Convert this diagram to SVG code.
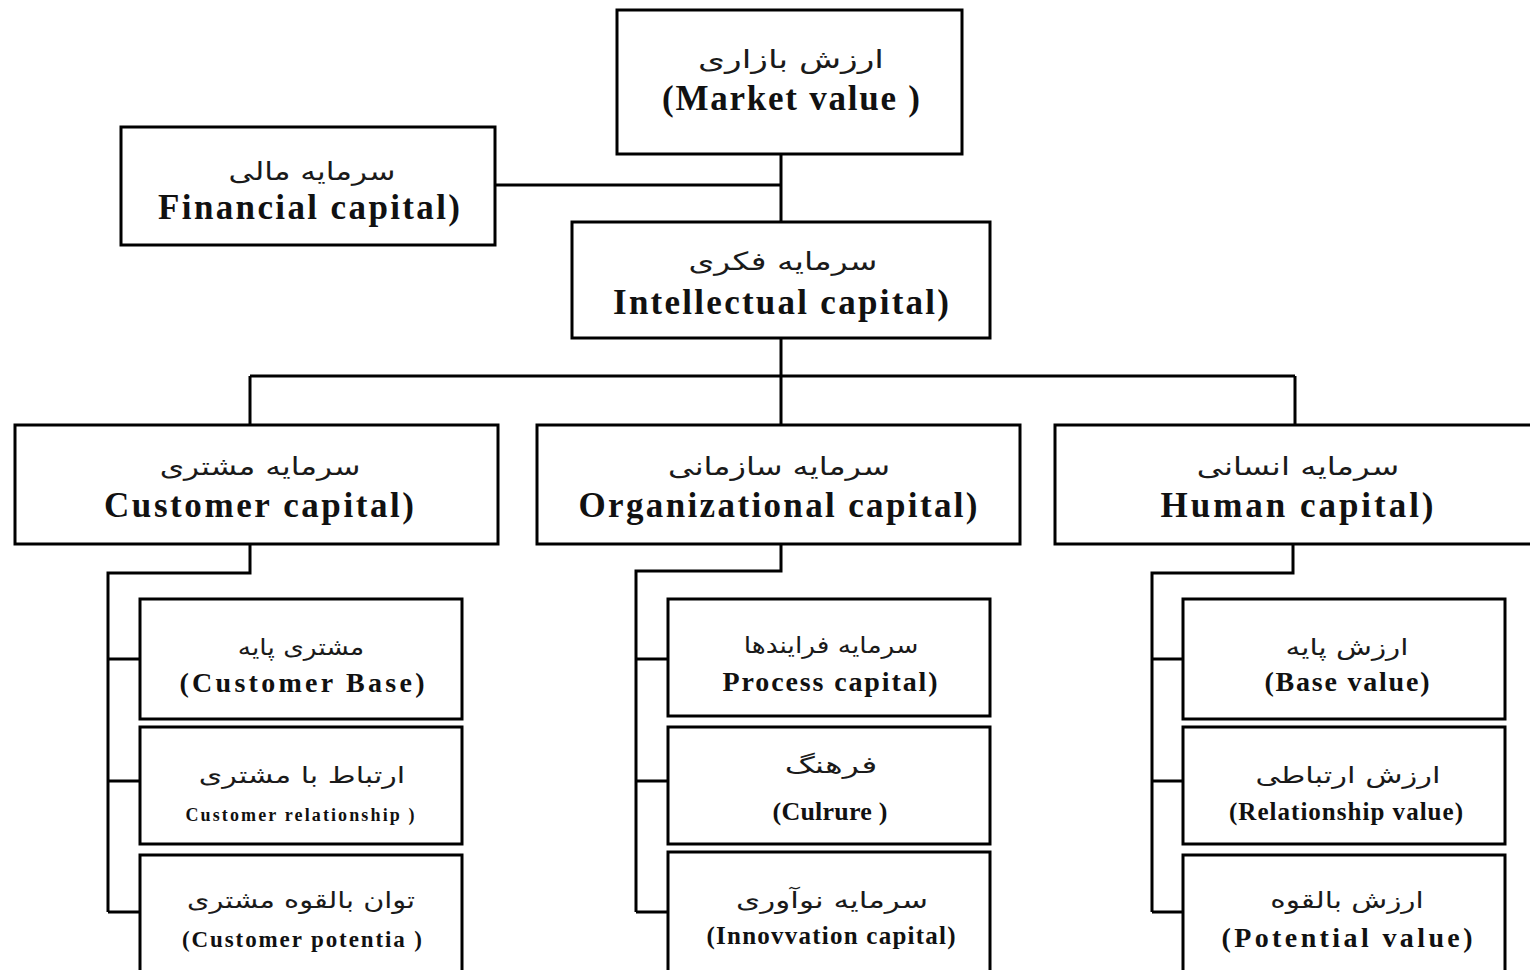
<svg xmlns="http://www.w3.org/2000/svg" width="1530" height="970" viewBox="0 0 1530 970">
  <style>
    .box { fill: #ffffff; stroke: #000000; stroke-width: 3; }
    .wire { fill: none; stroke: #000000; stroke-width: 3; }
    .fa { font-family: "DejaVu Sans", sans-serif; fill: #1a1a1a; text-anchor: middle; }
    .en { font-family: "Liberation Serif", serif; font-weight: bold; fill: #111111; text-anchor: middle; }
    .fa-l { font-size: 25px; }
    .fa-s { font-size: 23px; }
    .en-l { font-size: 35px; }
    .en-s { font-size: 28px; }
  </style>
  <rect width="1530" height="970" fill="#ffffff"/>

  <!-- connectors -->
  <g id="connectors" class="wire">
    <path d="M781 154 V222"/>
    <path d="M495 185 H781"/>
    <path d="M781 338 V376"/>
    <path d="M250 376 H1295"/>
    <path d="M250 376 V425 M781 376 V425 M1295 376 V425"/>
    <!-- customer branch -->
    <path d="M250 544 V573 H108 V912"/>
    <path d="M108 659 H140 M108 781 H140 M108 912 H140"/>
    <!-- organizational branch -->
    <path d="M781 544 V571 H636 V912"/>
    <path d="M636 659 H668 M636 781 H668 M636 912 H668"/>
    <!-- human branch -->
    <path d="M1293 544 V573 H1152 V912"/>
    <path d="M1152 659 H1183 M1152 781 H1188 M1152 912 H1188"/>
  </g>

  <!-- Persian captions are widened horizontally with scale(sx,1) about their centre -->
  <g id="market-value">
    <rect class="box" x="617" y="10" width="345" height="144"/>
    <text class="fa fa-l" transform="translate(791 68) scale(1.38 1)">ارزش بازاری</text>
    <text class="en en-l" x="791" y="110" textLength="258" lengthAdjust="spacing">(Market value )</text>
  </g>

  <g id="financial-capital">
    <rect class="box" x="121" y="127" width="374" height="118"/>
    <text class="fa fa-l" transform="translate(312 180) scale(1.25 1)">سرمایه مالی</text>
    <text class="en en-l" x="309" y="219" textLength="302" lengthAdjust="spacing">Financial capital)</text>
  </g>

  <g id="intellectual-capital">
    <rect class="box" x="572" y="222" width="418" height="116"/>
    <text class="fa fa-l" transform="translate(783 270) scale(1.32 1)">سرمایه فکری</text>
    <text class="en en-l" x="781" y="314" textLength="336" lengthAdjust="spacing">Intellectual capital)</text>
  </g>

  <g id="customer-capital">
    <rect class="box" x="15" y="425" width="483" height="119"/>
    <text class="fa fa-l" transform="translate(260 475) scale(1.25 1)">سرمایه مشتری</text>
    <text class="en en-l" x="259" y="517" textLength="310" lengthAdjust="spacing">Customer capital)</text>
  </g>

  <g id="organizational-capital">
    <rect class="box" x="537" y="425" width="483" height="119"/>
    <text class="fa fa-l" transform="translate(779 475) scale(1.28 1)">سرمایه سازمانی</text>
    <text class="en en-l" x="778" y="517" textLength="399" lengthAdjust="spacing">Organizational capital)</text>
  </g>

  <g id="human-capital">
    <rect class="box" x="1055" y="425" width="490" height="119"/>
    <text class="fa fa-l" transform="translate(1298 475) scale(1.3 1)">سرمایه انسانی</text>
    <text class="en en-l" x="1297" y="517" textLength="273" lengthAdjust="spacing">Human capital)</text>
  </g>

  <g id="customer-base">
    <rect class="box" x="140" y="599" width="322" height="120"/>
    <text class="fa fa-s" transform="translate(301 655) scale(1.15 1)">مشتری پایه</text>
    <text class="en en-s" x="302" y="692" textLength="245" lengthAdjust="spacing">(Customer Base)</text>
  </g>

  <g id="customer-relationship">
    <rect class="box" x="140" y="727" width="322" height="117"/>
    <text class="fa fa-s" transform="translate(302 783) scale(1.31 1)">ارتباط با مشتری</text>
    <text class="en" x="300" y="821" font-size="18" textLength="229" lengthAdjust="spacing">Customer relationship )</text>
  </g>

  <g id="customer-potential">
    <rect class="box" x="140" y="855" width="322" height="125"/>
    <text class="fa fa-s" transform="translate(301 908) scale(1.25 1)">توان بالقوه مشتری</text>
    <text class="en" x="302" y="947" font-size="23" textLength="240" lengthAdjust="spacing">(Customer potentia )</text>
  </g>

  <g id="process-capital">
    <rect class="box" x="668" y="599" width="322" height="117"/>
    <text class="fa fa-s" transform="translate(831 653) scale(1.15 1)">سرمایه فرایندها</text>
    <text class="en en-s" x="830" y="691" textLength="215" lengthAdjust="spacing">Process capital)</text>
  </g>

  <g id="culture">
    <rect class="box" x="668" y="727" width="322" height="117"/>
    <text class="fa fa-s" transform="translate(831 773) scale(1.46 1)">فرهنگ</text>
    <text class="en" x="830" y="820" font-size="26" textLength="115" lengthAdjust="spacing">(Culrure )</text>
  </g>

  <g id="innovation-capital">
    <rect class="box" x="668" y="852" width="322" height="128"/>
    <text class="fa fa-s" transform="translate(832 908) scale(1.35 1)">سرمایه نوآوری</text>
    <text class="en" x="831" y="944" font-size="25" textLength="249" lengthAdjust="spacing">(Innovvation capital)</text>
  </g>

  <g id="base-value">
    <rect class="box" x="1183" y="599" width="322" height="120"/>
    <text class="fa fa-s" transform="translate(1347 655) scale(1.28 1)">ارزش پایه</text>
    <text class="en en-s" x="1347" y="691" textLength="165" lengthAdjust="spacing">(Base value)</text>
  </g>

  <g id="relationship-value">
    <rect class="box" x="1183" y="727" width="322" height="117"/>
    <text class="fa fa-s" transform="translate(1348 783) scale(1.33 1)">ارزش ارتباطی</text>
    <text class="en" x="1346" y="820" font-size="25" textLength="234" lengthAdjust="spacing">(Relationship value)</text>
  </g>

  <g id="potential-value">
    <rect class="box" x="1183" y="855" width="322" height="125"/>
    <text class="fa fa-s" transform="translate(1347 908) scale(1.28 1)">ارزش بالقوه</text>
    <text class="en en-s" x="1347" y="947" textLength="251" lengthAdjust="spacing">(Potential value)</text>
  </g>
</svg>
